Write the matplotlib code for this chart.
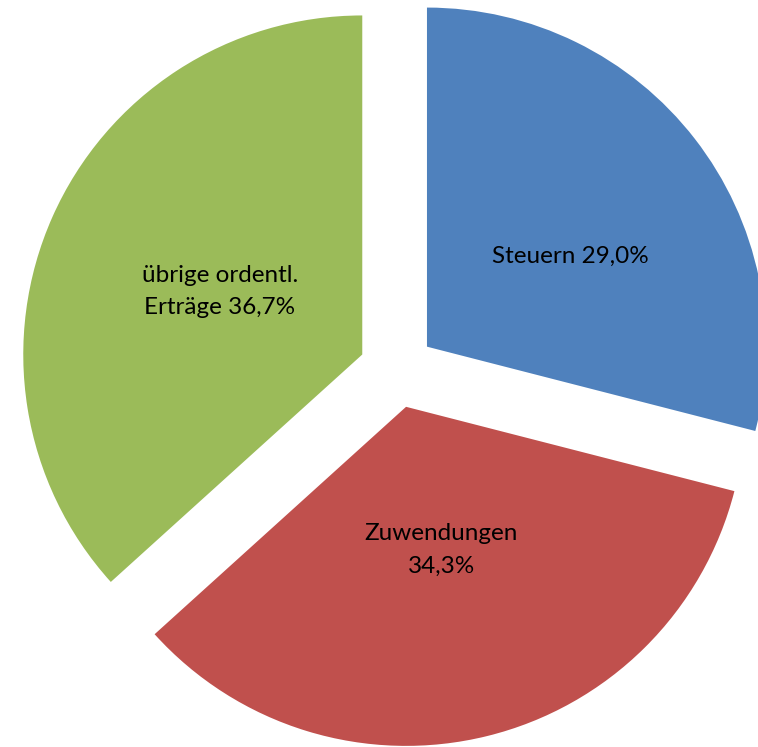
import numpy as np
import matplotlib.pyplot as plt

labels = ["Steuern 29,0%", "Zuwendungen\n34,3%", "übrige ordentl.\nErträge 36,7%"]
shares = [29.0, 34.3, 36.7]
colors = ["#4F81BD", "#C0504D", "#9BBB59"]
label_dist = [0.5, 0.435, 0.46]

fig = plt.figure(figsize=(7.58, 7.47), dpi=100)
ax = fig.add_axes([0, 0, 1, 1])

wedges, texts = ax.pie(
    shares,
    labels=labels,
    colors=colors,
    startangle=90,
    counterclock=False,
    explode=[0.112] * 3,
    labeldistance=0.45,
    textprops={"fontsize": 17.5, "family": ["Lato", "DejaVu Sans"], "color": "black"},
)
for w, t, d in zip(wedges, texts, label_dist):
    mid = np.deg2rad((w.theta1 + w.theta2) / 2)
    cx, cy = w.center
    # nudge Steuern label a bit lower like in excel
    if t.get_text().startswith("Steuern"):
        mid -= np.deg2rad(5.5)
    t.set_position((cx + d * np.cos(mid), cy + d * np.sin(mid)))
    t.set_horizontalalignment("center")
    t.set_verticalalignment("center")
    t.set_multialignment("center")
    t.set_linespacing(1.65)

ax.set_aspect("auto")
ax.set_xlim(-1.171, 1.065)
ax.set_ylim(-1.112, 1.091)
ax.axis("off")

fig.savefig("out.png", dpi=100, facecolor="white")
